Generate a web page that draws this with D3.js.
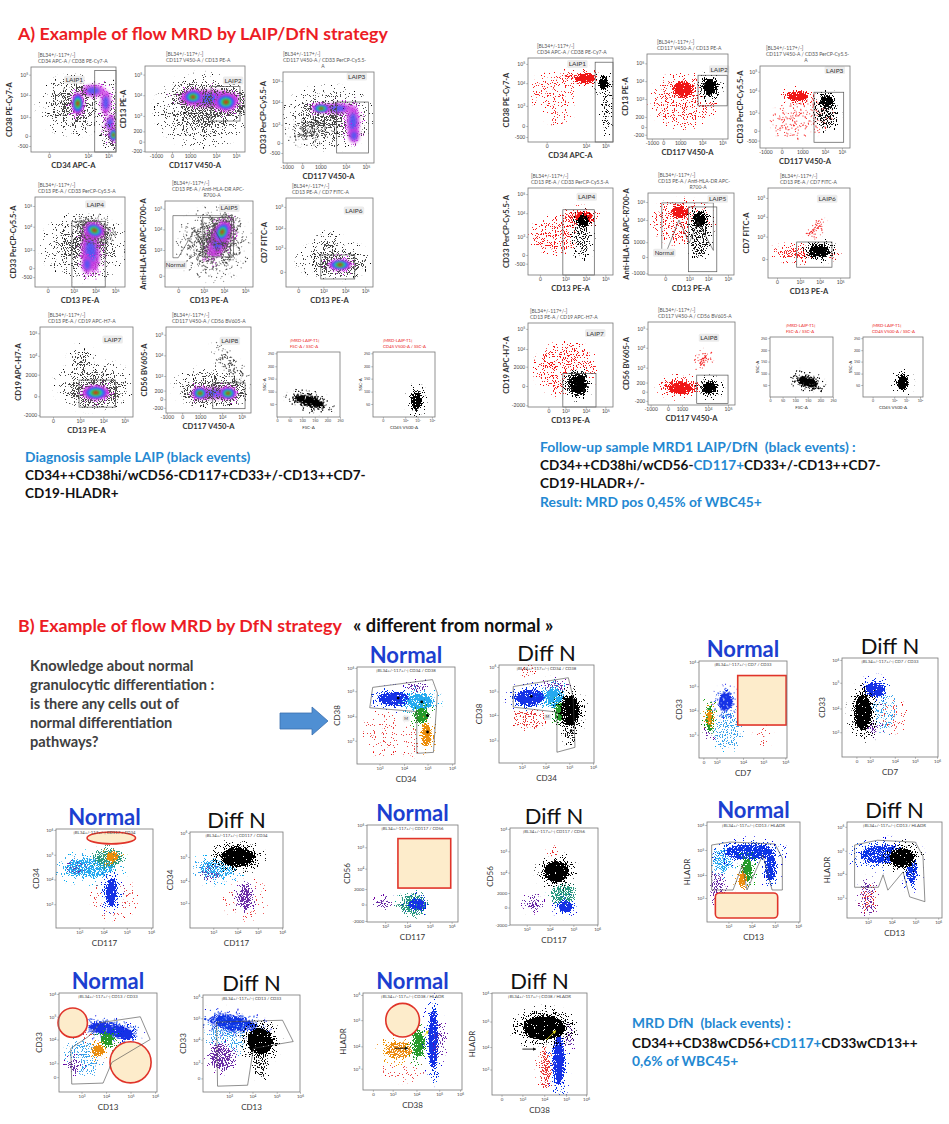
<!DOCTYPE html>
<html><head><meta charset="utf-8">
<script src="https://cdn.jsdelivr.net/npm/d3@7"></script>
<style>body{margin:0;background:#fff}svg{display:block;font-family:Lato,"Open Sans",sans-serif}</style>
</head><body>
<script>
// ================= DATA =================
const hdr = "[BL34+/-117+/-]";
const laipHeads = [
 [hdr,"CD34 APC-A / CD38 PE-Cy7-A"],
 [hdr,"CD117 V450-A / CD13 PE-A"],
 [hdr,"CD117 V450-A / CD33 PerCP-Cy5.5-","A"],
 [hdr,"CD13 PE-A / CD33 PerCP-Cy5.5-A"],
 [hdr,"CD13 PE-A / Anti-HLA-DR APC-","R700-A"],
 [hdr,"CD13 PE-A / CD7 FITC-A"],
 [hdr,"CD13 PE-A / CD19 APC-H7-A"],
 [hdr,"CD117 V450-A / CD56 BV605-A"],
 ["[MRD-LAIP-T1]","FSC-A / SSC-A"],
 ["[MRD-LAIP-T1]","CD45 V500-A / SSC-A"]];
const laipXLabels = ["CD34 APC-A","CD117 V450-A","CD117 V450-A","CD13 PE-A","CD13 PE-A","CD13 PE-A","CD13 PE-A","CD117 V450-A","FSC-A","CD45 V500-A"];
const laipYLabels = ["CD38 PE-Cy7-A","CD13 PE-A","CD33 PerCP-Cy5.5-A","CD33 PerCP-Cy5.5-A","Anti-HLA-DR APC-R700-A","CD7 FITC-A","CD19 APC-H7-A","CD56 BV605-A","SSC-A","SSC-A"];
const laipGateNames = ["LAIP1","LAIP2","LAIP3","LAIP4","LAIP5","LAIP6","LAIP7","LAIP8"];

const diagXTicks = ["21:0 67:10^4 91:10^5","11:-1000 27:0 45:1000 71:10^4 91:10^5","4:-1000 21:0 41:1000 69:10^4 91:10^5","14:0 43:10^3 67:10^4 89:10^5","15:0 44:10^3 67:10^4 91:10^5","14:0 43:10^3 68:10^4 91:10^5","14:0 43:10^3 68:10^4 91:10^5","1:-1000 19:0 40:1000 66:10^4 89:10^5","0:0 20:50 40:100 60:150 80:200 100:250","16:0 52:10^3 72:10^4 95:10^5"];
const diagYTicks = ["91:10^5 67:10^4 41:10^3 19:0 7:-500","90:10^5 66:10^4 42:10^3 24:200 12:0 1:-200","90:10^5 67:10^4 42:10^3 22:0 11:-500","90:10^5 67:10^4 41:10^3 21:0 11:-500","91:10^5 67:10^4 43:10^3 13:0","90:10^5 66:10^4 44:10^3 17:0","93:10^5 68:10^4 47:2000 23:0 2:-2000","91:10^5 67:10^4 43:10^3 26:200 16:0 6:-200","20:50 39:100 59:150 78:200 98:250","20:50 39:100 59:150 78:200 98:250"];
const followXTicks = ["22:0 68:10^4 91:10^5","6:-1000 20:0 41:1000 68:10^4 93:10^5","6:-1000 24:0 47:1000 72:10^4 91:10^5","14:0 44:10^3 68:10^4 91:10^5","20:0 48:10^3 70:10^4 93:10^5","11:0 39:10^3 63:10^4 88:10^5","24:0 44:10^3 68:10^4 91:10^5","3:-1000 23:0 39:1000 69:10^4 92:10^5","0:0 20:50 40:100 60:150 80:200 100:250","16:0 52:10^3 72:10^4 95:10^5"];
const followYTicks = ["93:10^5 70:10^4 43:10^3 19:0 6:-500","89:10^5 68:10^4 47:10^3 26:200 14:0 5:-200","93:10^5 70:10^4 43:10^3 21:0 9:-500","93:10^5 71:10^4 44:10^3 23:0 13:-500","89:10^5 67:10^4 40:1000 22:0 2:-1000","89:10^5 68:10^4 46:10^3 21:0","93:10^5 69:10^4 48:2000 25:0 2:-2000","92:10^5 69:10^4 45:10^3 27:200 16:0 5:-200","20:50 39:100 59:150 78:200 98:250","20:50 39:100 59:150 78:200 98:250"];

// clouds: [x, y, rx, ry, rotation, style, density]
const diagClouds = [
 [[50,55,40,32,0,'g'],[92,45,10,40,0,'g'],[73,72,14,7,0,'p'],[88,58,6,14,0,'p'],[93,34,5,10,-10,'p'],[55,57,7,13,0,'d'],[97,20,5,8,0,'d']],
 [[58,48,46,40,0,'g'],[64,62,30,10,0,'p'],[48,64,10,8,0,'d'],[81,58,11,10,0,'d']],
 [[50,50,48,32,0,'g'],[30,35,25,12,10,'g'],[60,60,16,6,0,'p'],[77,45,7,18,0,'p'],[78,30,6,8,0,'p'],[42,60,10,5,0,'d']],
 [[55,45,45,35,0,'g'],[62,40,10,22,5,'p'],[58,25,6,10,0,'p'],[66,63,11,8,-20,'d']],
 [[55,50,40,40,30,'g'],[62,55,10,22,-25,'p'],[65,64,8,12,-25,'d']],
 [[55,30,40,18,0,'g'],[50,45,15,15,0,'g'],[62,25,13,6,0,'d']],
 [[58,35,40,25,0,'g'],[45,60,12,18,0,'g'],[60,27,14,8,0,'d']],
 [[55,30,45,20,0,'g'],[75,55,8,30,40,'g'],[57,23,25,7,0,'p'],[40,23,9,7,0,'d'],[73,23,10,7,0,'d']],
 [[52,24,30,11,-15,'k',0.5],[52,24,24,7,-15,'K']],
 [[70,26,11,19,0,'k',0.5],[70,24,8,14,0,'K']]];
const followClouds = [
 [[30,60,28,20,0,'r',0.2],[35,35,15,12,0,'r',0.15],[50,77,18,5,0,'r',0.5],[68,76,12,6,0,'R'],[93,40,5,30,0,'k'],[89,70,6,8,0,'K']],
 [[45,45,40,30,0,'r',0.25],[44,58,12,10,0,'R'],[78,60,12,12,0,'k',0.6],[78,62,8,9,0,'K']],
 [[45,35,35,20,10,'r',0.2],[42,63,12,6,0,'R'],[74,45,12,22,0,'k',0.5],[74,57,7,7,0,'K']],
 [[35,45,30,20,0,'r',0.3],[60,65,20,10,0,'r',0.5],[66,67,10,6,0,'R'],[64,45,10,25,0,'k'],[65,62,7,7,0,'K']],
 [[40,65,35,25,0,'r',0.3],[37,77,10,8,0,'R'],[60,50,12,30,0,'k',0.45],[60,68,8,9,0,'K']],
 [[45,28,40,8,0,'r',0.45],[58,55,4,12,-45,'r',0.6],[62,30,18,10,0,'k',0.5],[62,30,12,7,0,'K']],
 [[45,45,35,30,0,'r',0.3],[58,28,14,16,0,'k',0.7],[59,27,9,10,0,'K']],
 [[38,22,25,10,0,'r',0.5],[37,20,14,7,0,'R'],[63,54,6,10,-40,'r',0.5],[71,21,12,10,0,'k',0.6],[71,21,8,7,0,'K']],
 [[60,25,22,12,-20,'k',0.5],[60,25,16,8,-20,'K']],
 [[66,25,12,18,0,'k',0.5],[66,24,8,13,0,'K']]];

const diagGates = [
 [['r',75,96,100,0]],[['r',66,76,95,36]],[['r',59,67,94,11]],[['r',41,73,78,0]],
 [['r',43,81,78,35],['p',9,83,76,83,74,34,55,69,45,35,34,67,15,34,9,34]],
 [['r',40,36,79,9]],[['r',42,41,81,11]],[['r',55,35,93,5]],[],[]];
const followGates = [
 [['r',79,95,100,0]],[['r',63,75,99,39]],[['r',60,68,93,7]],[['r',41,75,78,0]],
 [['r',47,83,80,4],['p',16,88,76,88,76,30,58,65,48,39,36,67,22,30,16,30]],
 [['r',35,40,78,12]],[['r',41,40,80,0]],[['r',56,36,92,2]],[],[]];
const diagLabelPos = [[51,85],[88,83],[81,95],[67,92],[73,92],[78,86],[78,86],[75,84]];
const followLabelPos = [[58,93],[89,82],[83,95],[69,90],[81,93],[72,88],[79,88],[70,81]];
const normalLabelPos = [[12,26],[19,27]];

// Section B
const bTitles = ["Normal","Diff N","Normal","Diff N","Normal","Diff N","Normal","Diff N","Normal","Diff N","Normal","Diff N","Normal","Diff N"];
const bHeads = ["CD34 / CD38","CD34 / CD38","CD7 / CD33","CD7 / CD33","CD117 / CD34","CD117 / CD34","CD117 / CD56","CD117 / CD56","CD13 / HLADR","CD13 / HLADR","CD13 / CD33","CD13 / CD33","CD38 / HLADR","CD38 / HLADR"];
const bXLabels = ["CD34","CD34","CD7","CD7","CD117","CD117","CD117","CD117","CD13","CD13","CD13","CD13","CD38","CD38"];
const bYLabels = ["CD38","CD38","CD33","CD33","CD34","CD34","CD56","CD56","HLADR","HLADR","CD33","CD33","HLADR","HLADR"];
const bXTicks = ["23:10^3 48:10^4 72:10^5 97:10^6","24:10^3 49:10^4 74:10^5 99:10^6","5:0 20:10^3 50:10^4 73:10^5 98:10^6","15:0 29:10^3 55:10^4 76:10^5 99:10^6","24:10^3 49:10^4 73:10^5 98:10^6","25:10^3 51:10^4 73:10^5 99:10^6","20:10^3 44:10^4 69:10^5 93:10^6","19:10^3 45:10^4 72:10^5 99:10^6","23:10^3 48:10^4 73:10^5 98:10^6","22:10^3 47:10^4 72:10^5 96:10^6","23:10^3 48:10^4 73:10^5 98:10^6","27:10^3 51:10^4 76:10^5 100:10^6","10:0 30:10^3 54:10^4 77:10^5 98:10^6","10:0 32:10^3 55:10^4 78:10^5 99:10^6"];
const bYTicks = ["99:10^6 75:10^5 49:10^4 24:10^3","98:10^6 73:10^5 49:10^4 23:10^3","99:10^6 74:10^5 49:10^4 24:10^3","98:10^6 75:10^5 49:10^4 25:10^3","99:10^6 74:10^5 49:10^4 24:10^3","99:10^6 74:10^5 49:10^4 26:10^3","100:10^6 77:10^5 55:10^4 34:2000 18:0 1:-2000","99:10^6 76:10^5 54:10^4 33:2000 18:0 0:-2000","97:10^6 72:10^5 47:10^4 24:10^3","95:10^6 70:10^5 46:10^4 21:10^3","99:10^6 76:10^5 53:10^4 29:10^3 15:0","98:10^6 76:10^5 54:10^4 30:10^3 14:0","98:10^6 72:10^5 45:10^4 22:10^3","100:10^6 72:10^5 47:10^4 25:10^3"];
const bClouds = [
 [[27,32,18,22,0,'x'],[55,25,10,15,0,'x'],[61,78,12,6,0,'P'],[38,67,16,7,0,'B'],[64,64,13,9,0,'c'],[66,50,7,8,0,'G'],[71,30,5,12,0,'O']],
 [[31,46,16,12,0,'x',0.3],[31,95,6,4,0,'x',0.3],[59,77,14,7,0,'P'],[33,67,16,8,0,'B'],[58,67,10,10,0,'c'],[65,52,6,10,0,'G'],[75,35,6,15,0,'k'],[75,53,10,15,0,'K']],
 [[32,29,16,20,0,'b'],[73,26,8,15,0,'x'],[30,58,8,10,-10,'B'],[12,40,4,14,0,'G'],[12,42,3,9,0,'O'],[11,24,3,6,0,'P']],
 [[38,45,20,22,0,'b'],[53,41,14,15,0,'x'],[34,68,10,8,0,'B'],[32,30,8,8,0,'P'],[22,45,9,18,0,'K']],
 [[60,30,22,20,0,'x'],[21,61,12,9,0,'P'],[35,61,25,10,0,'c',0.6],[57,36,6,14,0,'B'],[54,71,15,10,0,'y'],[58,72,6,5,0,'O']],
 [[60,30,22,20,0,'x'],[22,58,12,10,0,'P'],[30,62,20,10,0,'c',0.5],[59,32,8,14,0,'P',0.7],[51,74,18,10,0,'K']],
 [[55,60,20,20,0,'x',0.06],[18,20,10,5,0,'P'],[51,18,16,11,0,'y'],[55,18,9,6,0,'B']],
 [[26,23,10,8,0,'P'],[60,31,14,12,0,'y'],[63,19,8,6,0,'B'],[53,55,14,11,0,'K'],[48,74,3,4,0,'x',0.5]],
 [[11,35,8,16,0,'P'],[17,62,10,12,0,'c',0.5],[45,70,26,8,0,'B',0.8],[68,55,6,14,0,'B',0.8],[43,52,6,12,0,'G'],[38,42,4,7,0,'O']],
 [[22,22,8,18,0,'P'],[22,20,6,12,0,'x',0.3],[40,66,26,10,0,'B',0.7],[68,50,6,14,0,'B',0.7],[58,63,13,10,0,'K']],
 [[24,35,18,18,0,'b'],[16,27,8,8,0,'P'],[30,60,10,8,0,'x'],[52,63,22,7,-10,'B'],[69,58,7,6,0,'B'],[49,53,7,7,0,'G'],[40,42,6,6,0,'O']],
 [[25,55,20,20,0,'b'],[31,71,25,8,-10,'B',0.8],[19,36,13,14,0,'P',0.6],[60,30,8,15,0,'k'],[59,52,13,14,0,'K']],
 [[40,24,20,14,0,'x'],[37,41,14,9,0,'O',0.6],[56,48,6,14,0,'G'],[71,52,5,30,0,'B'],[78,52,4,20,0,'P']],
 [[57,27,7,22,0,'x',0.5],[70,34,6,25,0,'B'],[81,60,5,15,0,'P'],[55,66,22,12,0,'K']]];
const bGates = [
 [['p',16,79,77,87,82,73,78,12,61,11,61,54,13,58]],
 [['p',15,78,73,87,78,67,80,16,61,11,61,52,15,57]],
 [],[],[],[],[],[],
 [['p',5,77,25,80,73,78,81,64,81,32,70,32,60,67,43,32,38,57,28,32,5,32]],
 [['p',8,76,32,81,72,79,80,64,82,17,66,22,59,48,43,29,38,45,33,32,8,32]],
 [['p',12,44,30,56,42,70,83,76,93,53,54,30,45,9,13,8]],
 [['p',14,72,82,74,93,52,52,45,46,7,15,6]],
 [],[]];
const bHighlights = [[],[],[['rect',44,85,99,34]],[],[['ell',57,91,25,6]],[],[['rect',34,86,92,35]],[],[['rrect',9,29,76,4]],[],[['circ',14,70,15],['circ',73,30,21]],[],[['circ',40,72,17]],[]];
const bArrows = [[],[],[],[],[],[],[],[],[],[],[],[],[['#111',32,43,45,43],['#e8e020',62,56,66,61]],[['#111',32,45,46,45],['#e8e020',57,54,67,63]]];

// ================= LAYOUT =================
const diagBoxes = [[31,67,116,152],[145,66,245,152],[283,72,374,163],[35,197,125,287],[165,201,253,287],[286,198,373,287],[40,327,133,417],[166,327,251,413],[277,352,340,417],[373,352,435,417]];
const followBoxes = [[528,58,613,142],[647,54,728,139],[760,66,850,148],[528,188,613,275],[648,193,734,275],[768,188,850,278],[528,323,613,407],[648,322,735,405],[770,337,833,397],[863,337,923,397]];
const diagHeadX = [38,166,283,38,172,292,48,172,290,383];
const followHeadX = [537,657,766,531,658,780,530,658,786,872];
const bBoxes = [[357,667,455,764],[499,665,594,763],[699,661,787,758],[842,658,938,757],[56,829,153,928],[190,832,283,928],[367,825,458,922],[510,828,598,925],[707,822,800,922],[847,822,942,918],[59,993,157,1092],[203,995,300,1092],[363,993,462,1090],[492,993,587,1095]];

const RED = '#ec1c24', BLUE = '#2388d2', NBLUE = '#1c3fd0';

// ================= DRAW =================
const W = 949, H = 1124;
const svg = d3.select('body').append('svg').attr('width', W).attr('height', H);
const defs = svg.append('defs');
function spkFilter(id, sd, seed) {
  const f = defs.append('filter').attr('id', id).attr('x', '-100%').attr('y', '-100%').attr('width', '300%').attr('height', '300%');
  f.append('feGaussianBlur').attr('in', 'SourceGraphic').attr('stdDeviation', sd).attr('result', 'b');
  f.append('feTurbulence').attr('type', 'fractalNoise').attr('baseFrequency', 0.9).attr('numOctaves', 1).attr('seed', seed).attr('result', 'n');
  f.append('feColorMatrix').attr('in', 'n').attr('type', 'matrix').attr('values', '0 0 0 0 0  0 0 0 0 0  0 0 0 0 0  2.5 0 0 0 -0.75').attr('result', 'na');
  f.append('feComposite').attr('in', 'b').attr('in2', 'na').attr('operator', 'arithmetic').attr('k1', 0).attr('k2', 1).attr('k3', -1).attr('k4', 0).attr('result', 'd');
  f.append('feComponentTransfer').attr('in', 'd').attr('result', 'm').append('feFuncA').attr('type', 'linear').attr('slope', 40).attr('intercept', 0);
  f.append('feColorMatrix').attr('in', 'b').attr('type', 'matrix').attr('values', '1 0 0 0 0  0 1 0 0 0  0 0 1 0 0  0 0 0 80 0').attr('result', 'sc');
  f.append('feComposite').attr('in', 'sc').attr('in2', 'm').attr('operator', 'in');
}
spkFilter('spk', 2.6, 3);
spkFilter('spk2', 1.3, 9);
spkFilter('spk3', 3.2, 17);
defs.append('filter').attr('id', 'bl').attr('x', '-100%').attr('y', '-100%').attr('width', '300%').attr('height', '300%')
  .append('feGaussianBlur').attr('stdDeviation', 0.9);
defs.append('filter').attr('id', 'bl2').attr('x', '-100%').attr('y', '-100%').attr('width', '300%').attr('height', '300%')
  .append('feGaussianBlur').attr('stdDeviation', 1.4);
['#111', '#e8e020'].forEach((c, i) => {
  defs.append('marker').attr('id', 'ah' + i).attr('viewBox', '0 0 10 10').attr('refX', 8).attr('refY', 5)
    .attr('markerWidth', 4).attr('markerHeight', 4).attr('orient', 'auto')
    .append('path').attr('d', 'M0,0L10,5L0,10z').attr('fill', c);
});

const STY = {
  g: {c: '#4a4a4a', o: 0.3, f: 'spk'},
  r: {c: '#f42020', o: 0.35, f: 'spk'},
  R: {c: '#f01818', o: 0.95, f: 'spk2'},
  k: {c: '#151515', o: 0.4, f: 'spk'},
  K: {c: '#000', o: 0.97, f: 'spk2'},
  B: {c: '#1432e6', o: 0.92, f: 'spk2'},
  b: {c: '#3ca2ea', o: 0.35, f: 'spk'},
  c: {c: '#27aaf0', o: 0.8, f: 'spk2'},
  G: {c: '#249a2c', o: 0.85, f: 'spk2'},
  O: {c: '#ec8e10', o: 0.9, f: 'spk2'},
  P: {c: '#6c2ca6', o: 0.45, f: 'spk'},
  x: {c: '#e83a3a', o: 0.13, f: 'spk'},
  y: {c: '#2a9a80', o: 0.65, f: 'spk'}
};

const tk = s => s.split(' ').map(p => { const i = p.indexOf(':'); return [+p.slice(0, i), p.slice(i + 1)]; });
function sup() {
  const m = this.textContent.match(/^(.*)\^(.*)$/);
  if (m) { const s = d3.select(this); s.text(m[1]); s.append('tspan').attr('dy', '-0.45em').attr('font-size', '70%').text(m[2]); }
}
function ell(g, x, y, cx, cy, rx, ry, rot, color, op, filter) {
  const px = x(cx), py = y(cy);
  g.append('ellipse').attr('cx', px).attr('cy', py)
    .attr('rx', x(rx) - x(0)).attr('ry', y(0) - y(ry))
    .attr('fill', color).attr('fill-opacity', op)
    .attr('filter', `url(#${filter})`)
    .attr('transform', `rotate(${-rot},${px},${py})`);
}
function drawCloud(g, x, y, c) {
  const [cx, cy, rx, ry, rot, s, dens] = c;
  if (s === 'd') {
    ell(g, x, y, cx, cy, rx * 2.0, ry * 1.8, rot, '#4a4a4a', 0.5, 'spk');
    ell(g, x, y, cx, cy, rx * 1.25, ry * 1.2, rot, '#c838e0', 0.45, 'spk');
    ell(g, x, y, cx, cy, rx, ry, rot, '#c838e0', 1, 'bl2');
    ell(g, x, y, cx, cy, rx * .74, ry * .74, rot, '#3a5cf5', 1, 'bl');
    ell(g, x, y, cx, cy, rx * .52, ry * .52, rot, '#20c8d0', 1, 'bl');
    ell(g, x, y, cx, cy, rx * .38, ry * .38, rot, '#38c038', 1, 'bl');
    ell(g, x, y, cx, cy, rx * .22, ry * .22, rot, '#e02a10', 1, 'bl');
  } else if (s === 'p') {
    ell(g, x, y, cx, cy, rx * 1.3, ry * 1.3, rot, '#c838e0', 0.35, 'spk');
    ell(g, x, y, cx, cy, rx, ry, rot, '#c838e0', 0.85, 'bl2');
    ell(g, x, y, cx, cy, rx * .55, ry * .55, rot, '#3a5cf5', 0.8, 'bl2');
  } else if (s === 'g') {
    const d = dens || 0.3;
    ell(g, x, y, cx, cy, rx, ry, rot, '#4a4a4a', d * 0.45, 'spk3');
    ell(g, x, y, cx, cy, rx * 0.7, ry * 0.7, rot, '#4a4a4a', d, 'spk');
    ell(g, x, y, cx, cy, rx * 0.45, ry * 0.45, rot, '#4a4a4a', d * 1.6, 'spk');
  } else {
    const st = STY[s];
    const o = dens != null ? dens : st.o;
    if (st.f === 'spk2') ell(g, x, y, cx, cy, rx * 1.5, ry * 1.5, rot, st.c, o * 0.3, 'spk');
    ell(g, x, y, cx, cy, rx, ry, rot, st.c, o, st.f);
  }
}
let clipN = 0;
function drawPanel(o) {
  const [x0, y0, x1, y1] = o.box;
  const x = d3.scaleLinear().domain([0, 100]).range([x0, x1]);
  const y = d3.scaleLinear().domain([0, 100]).range([y1, y0]);
  const g = svg.append('g');
  const id = 'clip' + (clipN++);
  defs.append('clipPath').attr('id', id).append('rect').attr('x', x0).attr('y', y0).attr('width', x1 - x0).attr('height', y1 - y0);
  g.append('rect').attr('x', x0).attr('y', y0).attr('width', x1 - x0).attr('height', y1 - y0).attr('fill', '#fff');
  const cg = g.append('g').attr('clip-path', `url(#${id})`);
  o.clouds.forEach(c => drawCloud(cg, x, y, c));
  (o.marks || []).forEach(m => cg.append('circle').attr('cx', x(m[0])).attr('cy', y(m[1])).attr('r', 1.4).attr('fill', '#000'));
  (o.hl || []).forEach(h => {
    const st = s => s.attr('fill', '#fdeccb').attr('stroke', '#e0342a').attr('stroke-width', 1.6);
    if (h[0] === 'rect' || h[0] === 'rrect') {
      const r = g.append('rect').attr('x', x(h[1])).attr('y', y(h[2])).attr('width', x(h[3]) - x(h[1])).attr('height', y(h[4]) - y(h[2]));
      if (h[0] === 'rrect') r.attr('rx', 4);
      st(r);
    } else if (h[0] === 'ell') {
      st(g.append('ellipse').attr('cx', x(h[1])).attr('cy', y(h[2])).attr('rx', x(h[3]) - x(0)).attr('ry', y(0) - y(h[4])));
    } else if (h[0] === 'circ') {
      st(g.append('circle').attr('cx', x(h[1])).attr('cy', y(h[2])).attr('r', x(h[3]) - x(0)));
    }
  });
  (o.gates || []).forEach(gt => {
    if (gt[0] === 'r') {
      g.append('rect').attr('x', x(gt[1])).attr('y', y(gt[2])).attr('width', x(gt[3]) - x(gt[1])).attr('height', y(gt[4]) - y(gt[2]))
        .attr('fill', 'none').attr('stroke', '#555').attr('stroke-width', 0.7);
    } else {
      const pts = [];
      for (let i = 1; i < gt.length; i += 2) pts.push([x(gt[i]), y(gt[i + 1])]);
      g.append('path').attr('d', d3.line()(pts) + 'Z').attr('fill', 'none').attr('stroke', '#444').attr('stroke-width', 0.6);
    }
  });
  (o.arrows || []).forEach(a => {
    g.append('line').attr('x1', x(a[1])).attr('y1', y(a[2])).attr('x2', x(a[3])).attr('y2', y(a[4]))
      .attr('stroke', a[0]).attr('stroke-width', 0.9).attr('marker-end', `url(#ah${a[0] === '#111' ? 0 : 1})`);
  });
  (o.labels || []).forEach(l => {
    const t = g.append('text').attr('x', x(l[1])).attr('y', y(l[2])).attr('font-size', l[3] || 6.5).attr('fill', '#333')
      .attr('text-anchor', 'middle').attr('dominant-baseline', 'central').text(l[0]);
    const bb = t.node().getBBox();
    g.insert('rect', () => t.node()).attr('x', bb.x - 1.5).attr('y', bb.y - 0.5).attr('width', bb.width + 3).attr('height', bb.height + 1)
      .attr('rx', 1.5).attr('fill', '#ececec');
  });
  g.append('rect').attr('x', x0).attr('y', y0).attr('width', x1 - x0).attr('height', y1 - y0)
    .attr('fill', 'none').attr('stroke', '#777').attr('stroke-width', 0.8);
  const xt = tk(o.xt), yt = tk(o.yt);
  const gx = g.append('g').attr('transform', `translate(0,${y1})`)
    .call(d3.axisBottom(x).tickValues(xt.map(d => d[0])).tickFormat((d, i) => xt[i][1]).tickSize(1.8).tickPadding(1));
  const gy = g.append('g').attr('transform', `translate(${x0},0)`)
    .call(d3.axisLeft(y).tickValues(yt.map(d => d[0])).tickFormat((d, i) => yt[i][1]).tickSize(1.8).tickPadding(1));
  [gx, gy].forEach(a => {
    a.select('.domain').remove();
    a.attr('font-family', 'Lato, sans-serif').attr('font-size', o.tf);
    a.selectAll('line').attr('stroke', '#777').attr('stroke-width', 0.5);
    a.selectAll('text').attr('fill', '#444').each(sup);
  });
  g.append('text').attr('x', (x0 + x1) / 2).attr('y', y1 + o.xlo).attr('text-anchor', 'middle')
    .attr('font-size', o.lf).attr('font-weight', o.lw).attr('fill', '#333').text(o.xl);
  g.append('text').attr('transform', `translate(${x0 - o.ylo},${(y0 + y1) / 2}) rotate(-90)`).attr('text-anchor', 'middle')
    .attr('font-size', o.lf).attr('font-weight', o.lw).attr('fill', '#333').text(o.yl);
  if (o.heads) {
    const n = o.heads.length;
    o.heads.forEach((h, i) => {
      const centered = h.length <= 6;
      g.append('text').attr('x', centered ? o.hx + 40 : o.hx).attr('y', y0 - 4 - (n - 1 - i) * 6.2)
        .attr('font-size', o.hf || 5).attr('fill', o.hc || '#555').attr('text-anchor', centered ? 'middle' : 'start').text(h);
    });
  }
  if (o.bhead) {
    g.append('text').attr('x', (x0 + x1) / 2).attr('y', y0 + 4.8).attr('text-anchor', 'middle').attr('font-size', 4.3).attr('fill', '#444').text(o.bhead);
  }
  if (o.title) {
    const isN = o.title === 'Normal';
    g.append('text').attr('x', (x0 + x1) / 2).attr('y', y0 - 4).attr('text-anchor', 'middle')
      .attr('font-size', 22).attr('font-weight', isN ? 700 : 400).attr('fill', isN ? NBLUE : '#111').text(o.title);
  }
}

function laipSet(boxes, headX, xT, yT, clouds, gates, lpos, npos) {
  boxes.forEach((b, i) => {
    const small = i >= 8;
    drawPanel({
      box: b, xt: xT[i], yt: yT[i], clouds: clouds[i], gates: gates[i],
      xl: laipXLabels[i], yl: laipYLabels[i], heads: laipHeads[i], hx: headX[i],
      hc: small ? RED : '#555', hf: small ? 4.3 : 5,
      tf: small ? 3.6 : 5, lf: small ? 4.5 : 7.6, lw: small ? 400 : 700,
      xlo: small ? 12 : 15.5, ylo: small ? 11 : (i === 2 ? 17 : 19),
      labels: i < 8 ? [[laipGateNames[i], lpos[i][0], lpos[i][1]]].concat(i === 4 ? [['Normal', npos[0], npos[1], 6]] : []) : []
    });
  });
}
laipSet(diagBoxes, diagHeadX, diagXTicks, diagYTicks, diagClouds, diagGates, diagLabelPos, normalLabelPos[0]);
laipSet(followBoxes, followHeadX, followXTicks, followYTicks, followClouds, followGates, followLabelPos, normalLabelPos[1]);

bBoxes.forEach((b, i) => {
  drawPanel({
    box: b, xt: bXTicks[i], yt: bYTicks[i], clouds: bClouds[i], gates: bGates[i], hl: bHighlights[i], arrows: bArrows[i],
    xl: bXLabels[i], yl: bYLabels[i], bhead: hdr + ' ' + bHeads[i], title: bTitles[i],
    tf: 4.4, lf: 8, lw: 400, xlo: 18, ylo: 17,
    marks: i === 0 ? [[42, 68], [66, 64], [72, 50], [72, 33]] : (i === 1 ? [[34, 68], [76, 33]] : []),
    labels: i === 0 ? [['M', 50, 47, 4]] : (i === 1 ? [['M', 51, 47, 4]] : [])
  });
});

// ================= TEXTS =================
function line(x, y, parts, size, weight) {
  const t = svg.append('text').attr('x', x).attr('y', y).attr('font-size', size).attr('font-weight', weight || 700).style('white-space', 'pre');
  parts.forEach(([s, c]) => t.append('tspan').attr('fill', c).text(s));
  return t;
}
line(18, 40, [['A) Example of flow MRD by LAIP/DfN strategy', RED]], 17.8);
line(25, 462, [['Diagnosis sample LAIP (black events)', BLUE]], 13.8);
line(25, 480, [['CD34++CD38hi/wCD56-CD117+CD33+/-CD13++CD7-', '#111']], 13.5);
line(25, 498, [['CD19-HLADR+', '#111']], 13.5);
line(540, 452, [['Follow-up sample MRD1 LAIP/DfN  (black events) :', BLUE]], 13.9);
line(540, 470, [['CD34++CD38hi/wCD56-', '#111'], ['CD117+', BLUE], ['CD33+/-CD13++CD7-', '#111']], 13.5);
line(540, 488, [['CD19-HLADR+/-', '#111']], 13.5);
line(540, 507, [['Result: MRD pos 0,45% of WBC45+', BLUE]], 13.9);

line(18, 632, [['B) Example of flow MRD by DfN strategy', RED]], 17.8);
line(353, 632, [['« different from normal »', '#111']], 18.3);
['Knowledge about normal', 'granulocytic differentiation :', 'is there any cells out of', 'normal differentiation', 'pathways?']
  .forEach((s, i) => line(30, 671 + i * 19, [[s, '#404040']], 14.6));
line(632, 1028, [['MRD DfN  (black events) :', BLUE]], 13.8);
line(632, 1048, [['CD34++CD38wCD56+', '#111'], ['CD117+', BLUE], ['CD33wCD13++', '#111']], 13.5);
line(632, 1066, [['0,6% of WBC45+', BLUE]], 13.8);

svg.append('path').attr('d', d3.line()([[280, 713], [312, 713], [312, 707], [328, 721], [312, 735], [312, 729], [280, 729]]) + 'Z')
  .attr('fill', '#4f8fd3').attr('stroke', '#3a6fae').attr('stroke-width', 0.8);
</script>
</body></html>
